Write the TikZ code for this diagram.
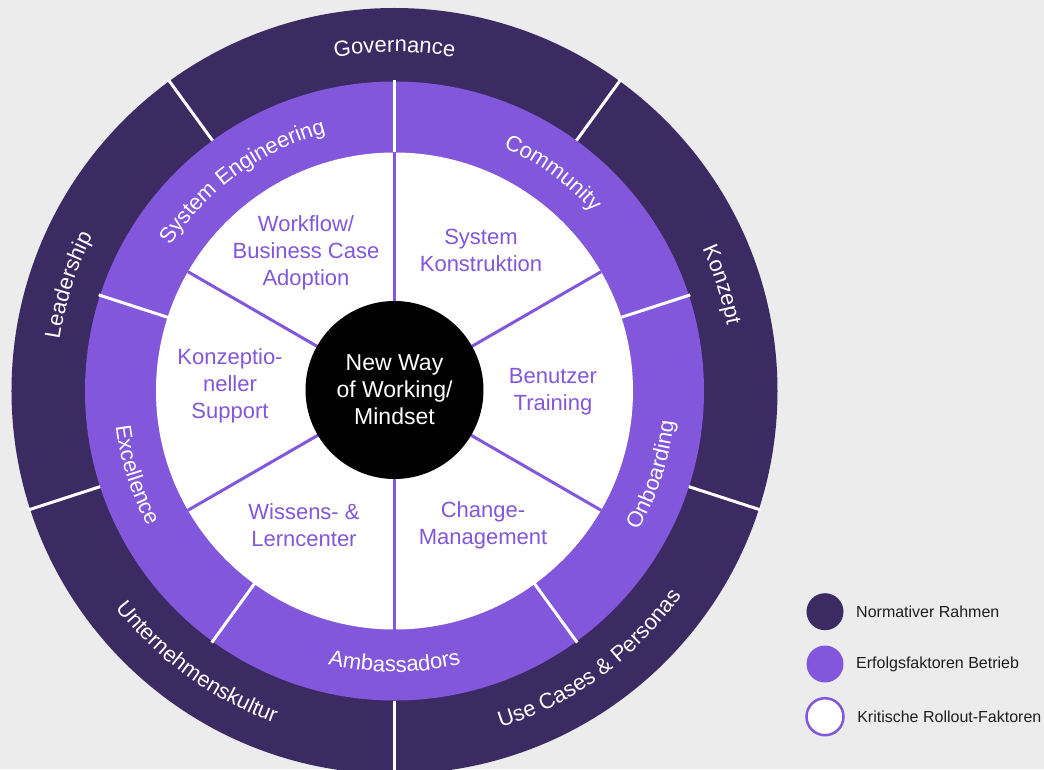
\documentclass[tikz,border=0pt]{standalone}
\usepackage{fontspec}
\setmainfont{Liberation Sans}
\usetikzlibrary{positioning,decorations.text}
\definecolor{rahmen}{HTML}{3C2A63}
\definecolor{betrieb}{HTML}{8257DB}
\definecolor{hinter}{HTML}{ECECEC}
\definecolor{legtext}{HTML}{1E1E1E}
\tikzset{
	ringlabel/.style={decorate, decoration={text along path, text align=center, text color=white}},
	ringcut/.style={draw=white, line width=3pt},
	factorcut/.style={draw=betrieb, line width=3pt},
	factor/.style={text=betrieb, align=center, font=\fontsize{22}{27}\selectfont},
	legdot/.style={circle, minimum size=37pt, inner sep=0pt},
	legtext/.style={text=legtext, font=\fontsize{16}{19}\selectfont}
}
\begin{document}
\begin{tikzpicture}[x=1pt,y=1pt]
	\useasboundingbox (-394.5,-378) rectangle (649.5,391);
	\fill[hinter] (-394.5,-378) rectangle (649.5,391);
	% rings
	\fill[rahmen] (0,0) circle (383pt);
	\fill[betrieb] (0,0) circle (309.5pt);
	\fill[white] (0,0) circle (238.5pt);
	% normativer rahmen
	\draw[ringcut] (54:309.5pt) -- (54:385pt);
	\draw[ringcut] (126:309.5pt) -- (126:385pt);
	\draw[ringcut] (198:309.5pt) -- (198:385pt);
	\draw[ringcut] (270:309.5pt) -- (270:385pt);
	\draw[ringcut] (342:309.5pt) -- (342:385pt);
	% erfolgsfaktoren
	\draw[ringcut] (18:237pt) -- (18:311pt);
	\draw[ringcut] (90:237pt) -- (90:311pt);
	\draw[ringcut] (162:237pt) -- (162:311pt);
	\draw[ringcut] (234:237pt) -- (234:311pt);
	\draw[ringcut] (306:237pt) -- (306:311pt);
	% rollout-faktoren
	\draw[factorcut] (30:80pt) -- (30:238.5pt);
	\draw[factorcut] (90:80pt) -- (90:238.5pt);
	\draw[factorcut] (150:80pt) -- (150:238.5pt);
	\draw[factorcut] (210:80pt) -- (210:238.5pt);
	\draw[factorcut] (270:80pt) -- (270:238.5pt);
	\draw[factorcut] (330:80pt) -- (330:238.5pt);
	\node (mindset) at (0,1) [circle, fill=black, minimum size=178pt, inner sep=0pt, text=white, align=center, font=\fontsize{23}{27}\selectfont] {New Way\\of Working/\\Mindset};
	% curved labels
	\path[ringlabel, decoration={text={|\fontsize{22}{26}\selectfont|Governance}}] (126:339pt) arc[start angle=126, end angle=54, radius=339pt];
	\path[ringlabel, decoration={text={|\fontsize{22}{26}\selectfont|Konzept}}] (54:339pt) arc[start angle=54, end angle=-18, radius=339pt];
	\path[ringlabel, decoration={text={|\fontsize{22}{26}\selectfont|Leadership}}] (198:339pt) arc[start angle=198, end angle=126, radius=339pt];
	\path[ringlabel, decoration={text={|\fontsize{22}{26}\selectfont|Unternehmenskultur}}] (198:353pt) arc[start angle=198, end angle=270, radius=353pt];
	\path[ringlabel, decoration={text={|\fontsize{22}{26}\selectfont|Use Cases {\&} Personas}}] (270:353pt) arc[start angle=270, end angle=342, radius=353pt];
	\path[ringlabel, decoration={text={|\fontsize{22}{26}\selectfont|System Engineering}}] (162:267pt) arc[start angle=162, end angle=90, radius=267pt];
	\path[ringlabel, decoration={text={|\fontsize{22}{26}\selectfont|Community}}] (90:267pt) arc[start angle=90, end angle=18, radius=267pt];
	\path[ringlabel, decoration={text={|\fontsize{22}{26}\selectfont|Excellence}}] (162:281pt) arc[start angle=162, end angle=234, radius=281pt];
	\path[ringlabel, decoration={text={|\fontsize{22}{26}\selectfont|Ambassadors}}] (234:281pt) arc[start angle=234, end angle=306, radius=281pt];
	\path[ringlabel, decoration={text={|\fontsize{22}{26}\selectfont|Onboarding}}] (306:281pt) arc[start angle=306, end angle=378, radius=281pt];
	% kritische rollout-faktoren
	\node (workflow) at (-88.5,138)	[factor]	{Workflow/\\Business Case\\Adoption};
	\node (konstr) at (86.5,141)	[factor]	{System\\Konstruktion};
	\node (training) at (158.5,-1)	[factor]	{Benutzer\\Training};
	\node (change) at (88.5,-134)	[factor]	{Change-\\Management};
	\node (wissen) at (-90.5,-134)	[factor]	{Wissens- \&\\Lerncenter};
	\node (support) at (-164.5,5)	[factor]	{Konzeptio-\\neller\\Support};
	% legende
	\node (rahmendot) at (430.5,-220.7)	[legdot, fill=rahmen]	{};
	\node (betriebdot) at (430.5,-273)	[legdot, fill=betrieb]	{};
	\node (rolloutdot) at (430.5,-325.7)	[legdot, fill=white, draw=betrieb, line width=2.5pt]	{};
	\node (rahmenlbl) [legtext, right=9pt of rahmendot]	{Normativer Rahmen};
	\node (betrieblbl) [legtext, right=9pt of betriebdot]	{Erfolgsfaktoren Betrieb};
	\node (rolloutlbl) [legtext, right=9pt of rolloutdot]	{Kritische Rollout-Faktoren};
\end{tikzpicture}
\end{document}
